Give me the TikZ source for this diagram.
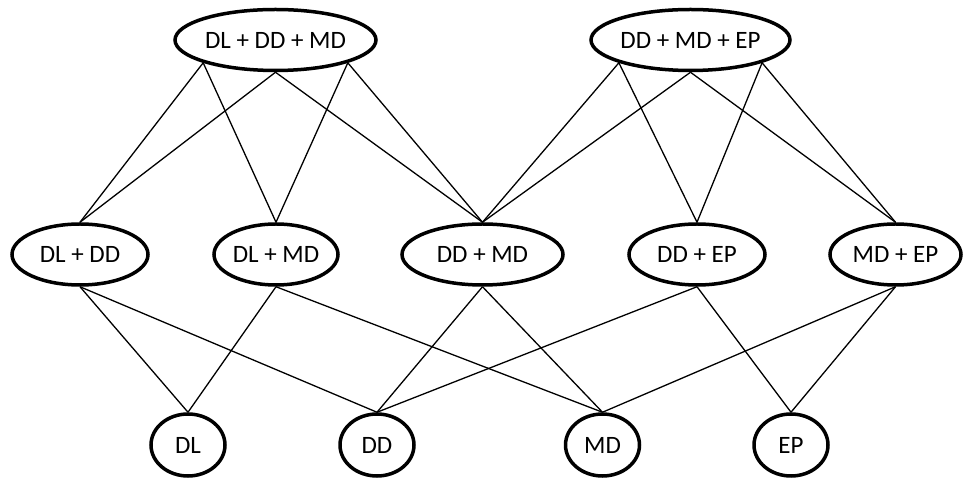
\documentclass[tikz,border=0pt]{standalone}
\usepackage{fontspec}
\setmainfont{Carlito}
\usetikzlibrary{shapes.geometric}

\begin{document}
\begin{tikzpicture}[x=1pt,y=1pt,
  set/.style={ellipse,draw,line width=3.5pt,inner sep=0pt,minimum height=61pt,font=\fontsize{25}{30}\selectfont},
  single/.style={set,minimum width=74pt,minimum height=62pt},
  link/.style={line width=1.3pt}]
\useasboundingbox (0,0) rectangle (964,479);
% triples
\node[set,minimum width=201pt] (dldmd) at (275.5,439) {DL + DD + MD};
\node[set,minimum width=199pt] (ddmdep) at (690.5,439) {DD + MD + EP};
% pairs
\node[set,minimum width=136pt] (dldd) at (80,224.5) {DL + DD};
\node[set,minimum width=124pt] (dlmd) at (276,224.5) {DL + MD};
\node[set,minimum width=161pt] (ddmd) at (482.5,224.5) {DD + MD};
\node[set,minimum width=136pt] (ddep) at (697,224.5) {DD + EP};
\node[set,minimum width=131pt] (mdep) at (895.5,224.5) {MD + EP};
% singles
\node[single] (dl) at (188,34) {DL};
\node[single] (dd) at (377,34) {DD};
\node[single] (md) at (602.5,34) {MD};
\node[single] (ep) at (791,34) {EP};
% triples to pairs
\draw[link] (dldmd.south west) -- (dldd.north);
\draw[link] (dldmd.south west) -- (dlmd.north);
\draw[link] (dldmd.south) -- (dldd.north);
\draw[link] (dldmd.south) -- (ddmd.north);
\draw[link] (dldmd.south east) -- (dlmd.north);
\draw[link] (dldmd.south east) -- (ddmd.north);
\draw[link] (ddmdep.south west) -- (ddmd.north);
\draw[link] (ddmdep.south west) -- (ddep.north);
\draw[link] (ddmdep.south) -- (ddmd.north);
\draw[link] (ddmdep.south) -- (mdep.north);
\draw[link] (ddmdep.south east) -- (ddep.north);
\draw[link] (ddmdep.south east) -- (mdep.north);
% pairs to singles
\draw[link] (dldd.south) -- (dl.north);
\draw[link] (dldd.south) -- (dd.north);
\draw[link] (dlmd.south) -- (dl.north);
\draw[link] (dlmd.south) -- (md.north);
\draw[link] (ddmd.south) -- (dd.north);
\draw[link] (ddmd.south) -- (md.north);
\draw[link] (ddep.south) -- (dd.north);
\draw[link] (ddep.south) -- (ep.north);
\draw[link] (mdep.south) -- (md.north);
\draw[link] (mdep.south) -- (ep.north);
\end{tikzpicture}
\end{document}
